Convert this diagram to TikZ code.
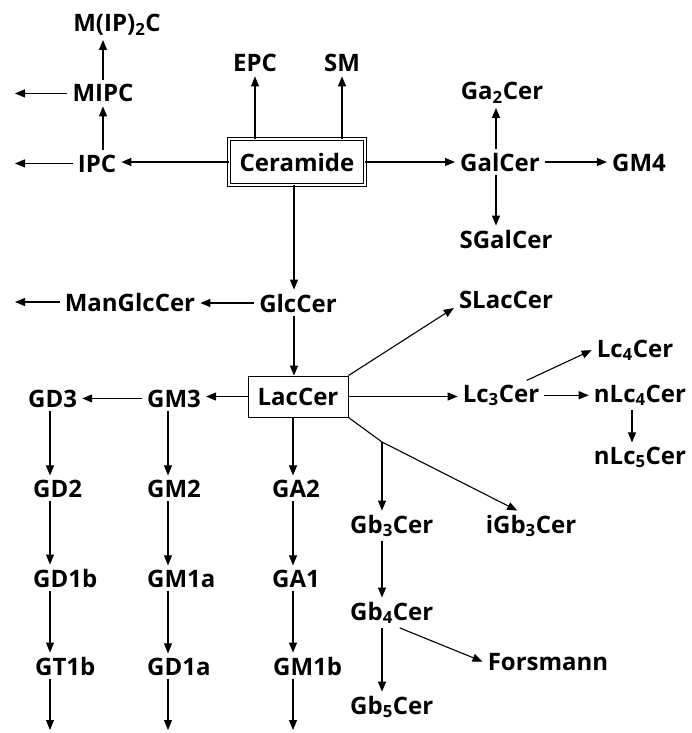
\documentclass[tikz,border=0pt]{standalone}
\usepackage{fontspec}
\setmainfont{Open Sans}
\usetikzlibrary{arrows.meta}
\newcommand{\lsub}[1]{\textsubscript{#1}}
\begin{document}
\begin{tikzpicture}[x=1pt,y=-1pt,
  lbl/.style={inner xsep=5pt, inner ysep=4pt, font=\fontsize{24}{28}\selectfont\bfseries, anchor=base},
  lft/.style={lbl, anchor=base west},
  arr/.style={-{Triangle[length=10pt,width=8pt]}, line width=1.1pt},
  ln/.style={line width=1.1pt}]
\useasboundingbox (0,0) rectangle (691,733);
% column / free-end coordinates
\coordinate (L) at (15,0);
\coordinate (cI) at (103,0);
\coordinate (cG) at (496,0);
\coordinate (cC) at (294,0);
\coordinate (cN) at (632,0);
\coordinate (cD) at (50,0);
\coordinate (cM) at (168,0);
\coordinate (cA) at (293,0);
\coordinate (br) at (382,442);
\coordinate (bD) at (50,730);
\coordinate (bM) at (168,730);
\coordinate (bA) at (293,730);
% nodes
\node[draw, double, double distance=2.4pt, line width=0.9pt, minimum width=136pt, minimum height=46pt,
      font=\fontsize{24}{28}\selectfont\bfseries] (Cer) at (297,162) {Ceramide};
\node[lbl] (MIP2C) at (117,32) {M(IP)\lsub{2}C};
\node[lbl] (MIPC) at (103,102) {MIPC};
\node[lbl] (IPC) at (97,172) {IPC};
\node[lbl] (EPC) at (255,72) {EPC};
\node[lbl] (SM) at (342,72) {SM};
\node[lbl] (GalCer) at (500,171) {GalCer};
\node[lbl] (Ga2Cer) at (502,100) {Ga\lsub{2}Cer};
\node[lbl] (SGalCer) at (506,248) {SGalCer};
\node[lbl] (GM4) at (639,171) {GM4};
\node[lbl] (GlcCer) at (298,312) {GlcCer};
\node[lbl] (ManGlcCer) at (130,311) {ManGlcCer};
\node[lbl] (SLacCer) at (506,308) {SLacCer};
\node[draw, line width=0.9pt, minimum width=100pt, minimum height=41pt,
      font=\fontsize{24}{28}\selectfont\bfseries] (LacCer) at (298,396.5) {LacCer};
\node[lbl] (Lc3Cer) at (501,402) {Lc\lsub{3}Cer};
\node[lbl] (Lc4Cer) at (635,357) {Lc\lsub{4}Cer};
\node[lbl] (nLc4Cer) at (640,402) {nLc\lsub{4}Cer};
\node[lbl] (nLc5Cer) at (640,464) {nLc\lsub{5}Cer};
\node[lft] (GD3) at (23,407) {GD3};
\node[lft] (GD2) at (28,497) {GD2};
\node[lft] (GD1b) at (28,587) {GD1b};
\node[lft] (GT1b) at (30,675) {GT1b};
\node[lft] (GM3) at (142,407) {GM3};
\node[lft] (GM2) at (142,497) {GM2};
\node[lft] (GM1a) at (142,587) {GM1a};
\node[lft] (GD1a) at (142,675) {GD1a};
\node[lft] (GA2) at (267,497) {GA2};
\node[lft] (GA1) at (267,587) {GA1};
\node[lft] (GM1b) at (268,675) {GM1b};
\node[lft] (Gb3Cer) at (345,533) {Gb\lsub{3}Cer};
\node[lft] (Gb4Cer) at (345,620) {Gb\lsub{4}Cer};
\node[lft] (Gb5Cer) at (345,714) {Gb\lsub{5}Cer};
\node[lbl] (iGb3Cer) at (531,533) {iGb\lsub{3}Cer};
\node[lbl] (Forsmann) at (548,670) {Forsmann};
% connectors: top
\draw[arr] (Cer.west) -- (Cer.west -| IPC.east);
\draw[arr] (IPC.west) -- (IPC.west -| L);
\draw[arr] (IPC.north -| cI) -- (MIPC.south -| cI);
\draw[arr] (MIPC.west) -- (MIPC.west -| L);
\draw[arr] (MIPC.north -| cI) -- (MIP2C.south -| cI);
\draw[arr] (Cer.north -| EPC) -- (EPC.south);
\draw[arr] (Cer.north -| SM) -- (SM.south);
\draw[arr] (Cer.east) -- (Cer.east -| GalCer.west);
\draw[arr] (GalCer.north -| cG) -- (Ga2Cer.south -| cG);
\draw[arr] (GalCer.south -| cG) -- (SGalCer.north -| cG);
\draw[arr] (GalCer.east) -- (GalCer.east -| GM4.west);
\draw[arr] (Cer.south -| cC) -- (GlcCer.north -| cC);
\draw[arr] (GlcCer.west) -- (GlcCer.west -| ManGlcCer.east);
\draw[arr] (ManGlcCer.west) -- (ManGlcCer.west -| L);
\draw[arr] (GlcCer.south -| cC) -- (LacCer.north -| cC);
% LacCer branches
\draw[arr] (LacCer.north east) -- (SLacCer.base west);
\draw[arr] (LacCer.east) -- (LacCer.east -| Lc3Cer.west);
\draw[arr] (Lc3Cer.30) -- (Lc4Cer.west);
\draw[arr] (Lc3Cer.east) -- (Lc3Cer.east -| nLc4Cer.west);
\draw[arr] (nLc4Cer.south -| cN) -- (nLc5Cer.north -| cN);
\draw[arr] (LacCer.west) -- (LacCer.west -| GM3.east);
\draw[arr] (GM3.west) -- (GM3.west -| GD3.east);
\draw[arr] (LacCer.south -| cA) -- (GA2.north -| cA);
\draw[ln] (LacCer.south east) -- (br);
\draw[arr] (br) -- (iGb3Cer.132);
\draw[arr] (br) -- (Gb3Cer.north -| br);
\draw[arr] (Gb3Cer.south -| br) -- (Gb4Cer.north -| br);
\draw[arr] (Gb4Cer.south -| br) -- (Gb5Cer.north -| br);
\draw[arr] (Gb4Cer.-62) -- (Forsmann.west);
% columns
\draw[arr] (GD3.south -| cD) -- (GD2.north -| cD);
\draw[arr] (GD2.south -| cD) -- (GD1b.north -| cD);
\draw[arr] (GD1b.south -| cD) -- (GT1b.north -| cD);
\draw[arr] (GT1b.south -| cD) -- (bD);
\draw[arr] (GM3.south -| cM) -- (GM2.north -| cM);
\draw[arr] (GM2.south -| cM) -- (GM1a.north -| cM);
\draw[arr] (GM1a.south -| cM) -- (GD1a.north -| cM);
\draw[arr] (GD1a.south -| cM) -- (bM);
\draw[arr] (GA2.south -| cA) -- (GA1.north -| cA);
\draw[arr] (GA1.south -| cA) -- (GM1b.north -| cA);
\draw[arr] (GM1b.south -| cA) -- (bA);
\end{tikzpicture}
\end{document}
